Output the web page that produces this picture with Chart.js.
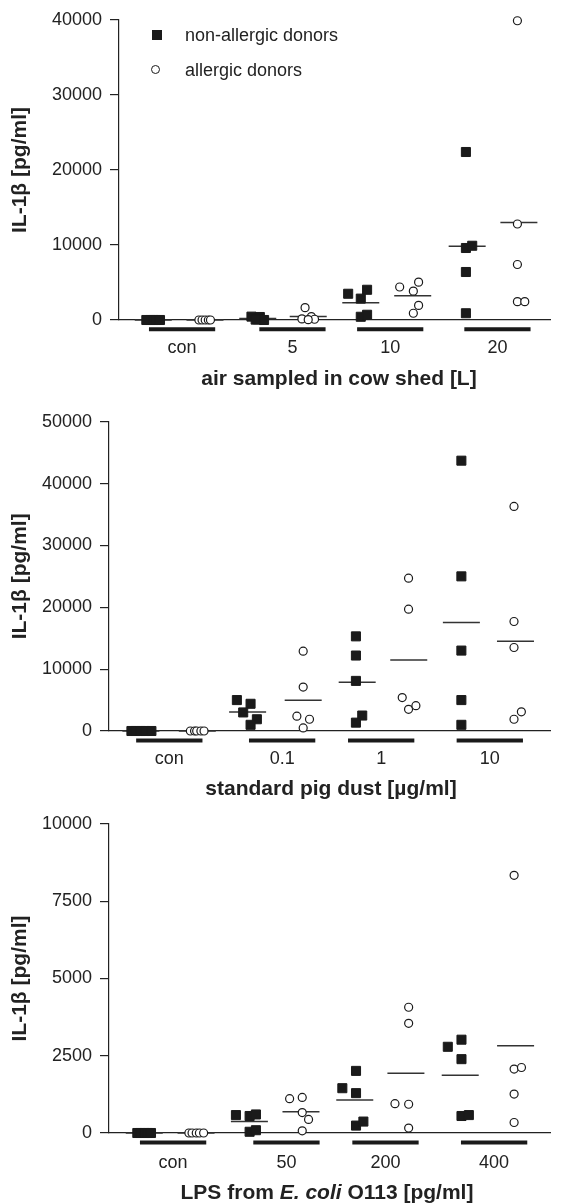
<!DOCTYPE html>
<html>
<head>
<meta charset="utf-8">
<script src="https://cdn.jsdelivr.net/npm/chart.js@4.4.1/dist/chart.umd.min.js"></script>
<style>
html,body{margin:0;padding:0;background:#fff;}
body{width:570px;height:1204px;position:relative;overflow:hidden;font-family:"Liberation Sans",Arial,Helvetica,sans-serif;color:#222;}
.pane{position:absolute;left:0;width:570px;}
.xt{position:absolute;font-weight:bold;font-size:21px;line-height:24px;white-space:nowrap;transform:translateX(-50%);}
.leg{position:absolute;left:185px;font-size:18px;line-height:20px;white-space:nowrap;}
.sq{position:absolute;width:10px;height:10px;background:#1a1a1a;}
.ci{position:absolute;width:7px;height:7px;border:1.2px solid #1a1a1a;border-radius:50%;background:#fff;}
</style>
</head>
<body>
<div class="pane" style="top:0;height:378px"><canvas id="cow"></canvas></div>
<div class="pane" style="top:392px;height:398px"><canvas id="pig"></canvas></div>
<div class="pane" style="top:800px;height:395px"><canvas id="lps"></canvas></div>

<div class="sq" style="left:152px;top:30px"></div><div class="leg" id="leg0" style="top:25px"></div>
<div class="ci" style="left:151px;top:65px"></div><div class="leg" id="leg1" style="top:60px"></div>

<div class="xt" style="left:339px;top:366px">air sampled in cow shed [L]</div>
<div class="xt" style="left:331px;top:776px">standard pig dust [µg/ml]</div>
<div class="xt" style="left:327px;top:1180px">LPS from <i>E. coli</i> O113 [pg/ml]</div>

<script>
/* --- Daten: IL-1β je Spender, x = Position der Kategorie + Versatz im Streifen --- */
const seriesNames=['non-allergic donors','allergic donors'];

// Panel 1: air sampled in cow shed [L]
const cowLabels=['con','5','10','20'];
const cowAt=[0.60,1.65,2.58,3.60];
const cowNon=[[0,0,0,0,0],[450,400,100,50,0],[3500,2850,4030,430,700],[22400,9600,9900,6400,900]];
const cowNonDx=[[-0.34,-0.30,-0.27,-0.25,-0.21],[-0.39,-0.31,-0.33,-0.35,-0.27],[-0.40,-0.28,-0.22,-0.28,-0.22],[-0.30,-0.30,-0.24,-0.30,-0.30]];
const cowAll=[[0,0,0,0,0],[1650,450,150,100,50],[4400,3850,5050,1950,900],[39900,12800,7400,2450,2450]];
const cowAllDx=[[0.16,0.19,0.22,0.25,0.27],[0.12,0.18,0.09,0.21,0.15],[0.09,0.22,0.27,0.27,0.22],[0.19,0.19,0.19,0.19,0.26]];

// Panel 2: standard pig dust [µg/ml]
const pigLabels=['con','0.1','1','10'];
const pigAt=[0.573,1.645,2.586,3.618];
const pigNon=[[0,0,0,0,0],[5000,4400,3000,1900,1000],[15300,12200,8100,2500,1350],[43700,25000,13000,5000,1000]];
const pigNonDx=[[-0.36,-0.32,-0.27,-0.23,-0.17],[-0.43,-0.30,-0.37,-0.24,-0.30],[-0.24,-0.24,-0.24,-0.18,-0.24],[-0.27,-0.27,-0.27,-0.27,-0.27]];
const pigAll=[[0,0,0,0,0],[12900,7100,2400,1900,500],[24700,19700,5400,3500,4100],[36300,17700,13500,1900,3100]];
const pigAllDx=[[0.20,0.24,0.26,0.30,0.33],[0.20,0.20,0.14,0.26,0.20],[0.26,0.26,0.20,0.26,0.33],[0.23,0.23,0.23,0.23,0.30]];

// Panel 3: LPS from E. coli O113 [pg/ml]
const lpsLabels=['con','50','200','400'];
const lpsAt=[0.609,1.686,2.627,3.659];
const lpsNon=[[0,0,0,0,0],[580,550,600,40,90],[1450,2010,1290,240,370],[2790,3020,2390,550,580]];
const lpsNonDx=[[-0.34,-0.31,-0.27,-0.24,-0.21],[-0.48,-0.35,-0.29,-0.35,-0.29],[-0.41,-0.28,-0.28,-0.28,-0.21],[-0.44,-0.31,-0.31,-0.31,-0.24]];
const lpsAll=[[0,0,0,0,0],[1110,1150,660,440,70],[4070,3550,950,930,160],[8340,2070,2120,1260,340]];
const lpsAllDx=[[0.15,0.18,0.22,0.25,0.29],[0.03,0.15,0.15,0.21,0.15],[0.22,0.22,0.09,0.22,0.22],[0.19,0.19,0.26,0.19,0.19]];

/* --- Helfer --- */
Chart.defaults.font.family='"Liberation Sans", Arial, Helvetica, sans-serif';
Chart.defaults.color='#222';
const INK='#1a1a1a';
const avg=a=>a.reduce((s,v)=>s+v,0)/a.length;
function pts(at,vals,dx){const o=[];vals.forEach((g,i)=>g.forEach((v,j)=>o.push({x:at[i]+dx[i][j],y:v})));return o;}
function means(at,vals,dx){return vals.map((g,i)=>({x:at[i]+avg(dx[i]),y:avg(g)}));}
function brackets(at,y){const o=[];at.forEach(c=>o.push({x:c-0.315,y},{x:c+0.315,y},{x:c+0.315,y:null}));return o;}

function panel(id,p){
  const el=document.getElementById(id);
  const meanStyle={type:'scatter',pointStyle:'line',pointRadius:18.5,borderColor:'#333',borderWidth:1.5,clip:false,order:5};
  return new Chart(el,{type:'scatter',
    data:{datasets:[
      {label:seriesNames[0],data:pts(p.at,p.non,p.nonDx),pointStyle:'rect',pointRadius:6.4,backgroundColor:INK,borderColor:INK,borderWidth:1,clip:false,order:1},
      {label:seriesNames[1],data:pts(p.at,p.all,p.allDx),pointStyle:'circle',pointRadius:4,backgroundColor:'#fff',borderColor:INK,borderWidth:1.2,clip:false,order:0},
      Object.assign({label:'mean non',data:means(p.at,p.non,p.nonDx)},meanStyle),
      Object.assign({label:'mean all',data:means(p.at,p.all,p.allDx)},meanStyle),
      {label:'groups',data:brackets(p.at,-p.max*0.031),showLine:true,spanGaps:false,pointRadius:0,borderColor:INK,borderWidth:4,borderCapStyle:'butt',clip:false,order:6}
    ]},
    options:{responsive:true,maintainAspectRatio:false,animation:false,events:[],
      layout:{padding:p.pad},
      plugins:{legend:{display:false},tooltip:{enabled:false}},
      scales:{
        x:{type:'linear',min:0,max:p.xmax,
          afterBuildTicks:s=>{s.ticks=p.at.map(v=>({value:v}));},
          ticks:{autoSkip:false,maxRotation:0,padding:p.lpad,font:{size:18},color:'#222',callback:(v,i)=>p.labels[i]},
          grid:{display:false,drawTicks:false},border:{display:true,color:'#222',width:1.2}},
        y:{min:0,max:p.max,afterFit:s=>{s.width=p.axisX;},
          ticks:{stepSize:p.step,padding:8,font:{size:18},color:'#222',callback:v=>String(v)},
          grid:{drawOnChartArea:false,drawTicks:true,tickLength:9,color:'#222',lineWidth:1.2},
          border:{display:true,color:'#222',width:1.2},
          title:{display:true,text:'IL-1β [pg/ml]',color:'#222',font:{size:21,weight:'bold'},padding:{top:8,bottom:0}}}
      }}});
}

panel('cow',{labels:cowLabels,at:cowAt,non:cowNon,nonDx:cowNonDx,all:cowAll,allDx:cowAllDx,
  max:40000,step:10000,xmax:4.1,axisX:119,lpad:17,pad:{top:16,bottom:2.4,left:0,right:0}});
panel('pig',{labels:pigLabels,at:pigAt,non:pigNon,nonDx:pigNonDx,all:pigAll,allDx:pigAllDx,
  max:50000,step:10000,xmax:4.19,axisX:109,lpad:17,pad:{top:29.7,bottom:3.4,left:0,right:0}});
panel('lps',{labels:lpsLabels,at:lpsAt,non:lpsNon,nonDx:lpsNonDx,all:lpsAll,allDx:lpsAllDx,
  max:10000,step:2500,xmax:4.19,axisX:109,lpad:19,pad:{top:24,bottom:2.4,left:0,right:0}});

document.getElementById('leg0').textContent=seriesNames[0];
document.getElementById('leg1').textContent=seriesNames[1];
</script>
</body>
</html>
